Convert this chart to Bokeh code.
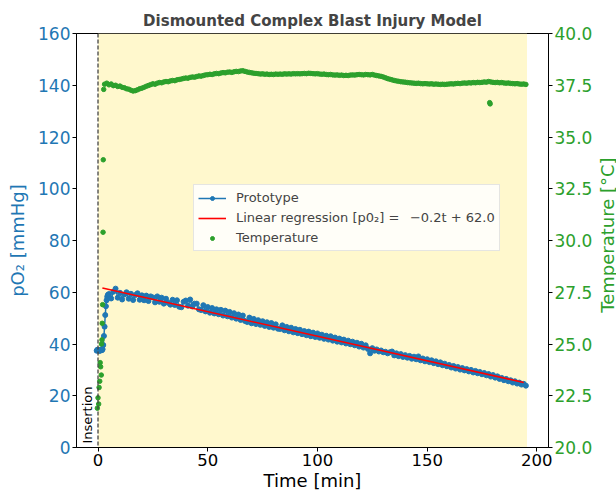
import numpy as np
from bokeh.plotting import figure
from bokeh.layouts import row
from bokeh.models import (Range1d, LinearAxis, Span, BoxAnnotation, Label, Legend,
                          LegendItem, FixedTicker, NumeralTickFormatter, ColumnDataSource)
from bokeh.embed import file_html
from bokeh.resources import INLINE

# ---------------- data ----------------
title_text = "Dismounted Complex Blast Injury Model"

proto_t_early = [-0.6, -0.3, 0.0, 0.3, 0.6, 0.9, 1.2, 1.5, 1.8, 2.1, 2.4, 2.7,
                 3.0, 3.3, 3.6, 3.9, 4.2, 4.5]
proto_p_early = [37.4, 37.8, 37.5, 37.6, 37.3, 37.7, 37.5, 37.9, 37.6, 38.0, 39.6, 43.1,
                 46.7, 51.2, 54.6, 56.9, 58.3, 59.0]
proto_t_main = [float(m) for m in range(5, 196)]
proto_p_main = [
    59.3, 57.6, 60.2, 61.4, 57.9, 59.8, 57.2, 59.1, 60.0, 57.5,
    59.4, 57.0, 58.9, 59.6, 57.1, 58.8, 56.9, 58.7, 56.6, 58.4,
    58.0, 56.1, 58.4, 56.3, 57.9, 55.6, 57.5, 55.9, 55.2, 57.1,
    55.1, 56.9, 54.4, 54.2, 56.3, 56.8, 54.8, 57.2, 54.5, 55.6,
    55.6, 53.4, 53.1, 55.0, 52.6, 54.3, 52.1, 53.9, 51.8, 53.4,
    51.5, 53.2, 51.0, 52.9, 50.7, 52.4, 50.2, 51.9, 49.8, 51.4,
    49.3, 51.0, 48.9, 48.5, 50.2, 48.0, 49.7, 47.7, 49.2, 47.4,
    48.8, 47.0, 48.4, 46.6, 48.1, 46.3, 47.6, 45.9, 45.8, 47.2,
    45.3, 46.6, 44.9, 46.3, 44.5, 45.8, 44.2, 45.5, 43.8, 45.0,
    43.4, 44.8, 43.0, 44.4, 42.7, 44.1, 42.4, 43.6, 42.0, 43.2,
    41.7, 43.0, 41.3, 42.5, 40.9, 42.1, 40.6, 41.7, 40.2, 41.3,
    39.9, 40.9, 39.5, 40.5, 39.0, 40.1, 38.6, 39.5, 38.1, 36.4,
    38.4, 37.4, 37.9, 37.1, 37.5, 36.8, 37.0, 36.4, 36.8, 37.1,
    35.6, 36.4, 35.3, 36.1, 35.0, 35.7, 34.7, 35.4, 34.3, 35.1,
    34.1, 35.2, 33.7, 34.4, 33.3, 34.1, 33.0, 33.7, 32.6, 33.3,
    32.2, 32.9, 31.8, 32.4, 31.4, 31.9, 30.9, 31.5, 30.5, 31.1,
    30.1, 30.7, 29.8, 30.3, 29.4, 30.0, 29.0, 29.6, 28.7, 29.2,
    28.3, 28.8, 27.9, 28.4, 27.4, 28.0, 27.0, 27.5, 26.5, 26.9,
    26.0, 26.5, 25.6, 26.0, 25.1, 25.6, 24.7, 25.1, 24.3, 24.6,
    23.9,
]

temp_t_early = [-0.3, 0.0, 0.3, 0.5, 0.8, 1.0, 1.2, 1.5, 1.6, 1.8, 1.9, 2.1, 2.3, 2.4, 2.6]
temp_v_early = [21.9, 22.4, 22.1, 22.9, 23.2, 24.1, 23.9, 23.5, 25.0, 25.2, 26.0, 26.9,
                30.4, 33.9, 37.3]
temp_t_main = [float(m) for m in range(3, 196)]
temp_v_main = [
    37.55, 37.60, 37.52, 37.56, 37.48, 37.50, 37.44, 37.46, 37.40, 37.38,
    37.33, 37.31, 37.26, 37.22, 37.24, 37.28, 37.33, 37.36, 37.40, 37.45,
    37.49, 37.53, 37.57, 37.55, 37.60, 37.63, 37.62, 37.66, 37.68, 37.67,
    37.71, 37.73, 37.72, 37.76, 37.78, 37.80, 37.83, 37.85, 37.84, 37.88,
    37.90, 37.89, 37.92, 37.95, 37.94, 37.97, 38.00, 38.01, 38.03, 38.02,
    38.05, 38.07, 38.06, 38.09, 38.11, 38.10, 38.13, 38.14, 38.12, 38.15,
    38.17, 38.16, 38.19, 38.20, 38.17, 38.14, 38.12, 38.10, 38.08, 38.07,
    38.06, 38.04, 38.05, 38.03, 38.04, 38.02, 38.03, 38.02, 38.04, 38.03,
    38.04, 38.03, 38.05, 38.04, 38.05, 38.04, 38.06, 38.05, 38.06, 38.05,
    38.06, 38.07, 38.06, 38.08, 38.07, 38.06, 38.05, 38.06, 38.04, 38.03,
    38.04, 38.02, 38.01, 38.02, 38.00, 37.99, 38.00, 37.98, 37.99, 37.97,
    37.98, 37.97, 37.99, 38.00, 37.99, 38.01, 38.02, 38.01, 38.00, 38.02,
    38.01, 38.00, 38.02, 37.99, 37.97, 37.95, 37.93, 37.90, 37.86, 37.82,
    37.79, 37.76, 37.73, 37.71, 37.69, 37.67, 37.66, 37.65, 37.63, 37.62,
    37.61, 37.60, 37.59, 37.60, 37.58, 37.57, 37.58, 37.57, 37.56, 37.57,
    37.55, 37.56, 37.55, 37.54, 37.55, 37.54, 37.55, 37.56, 37.57, 37.56,
    37.58, 37.59, 37.58, 37.60, 37.61, 37.60, 37.62, 37.61, 37.63, 37.62,
    37.64, 37.63, 37.64, 37.66, 37.65, 37.68, 37.66, 37.64, 37.63, 37.64,
    37.62, 37.63, 37.61, 37.60, 37.61, 37.59, 37.58, 37.57, 37.58, 37.56,
    37.55, 37.56, 37.54,
]
temp_t_out = [178.5, 178.7]
temp_v_out = [36.66, 36.60]

reg_slope = -0.19
reg_intercept = 62.0
reg_t_span = [2.0, 194.0]
insertion_t = 0.0
shade_span = [0.0, 195.5]

x_ticks = [0, 50, 100, 150, 200]
p_ticks = [0, 20, 40, 60, 80, 100, 120, 140, 160]
temp_ticks = [20.0, 22.5, 25.0, 27.5, 30.0, 32.5, 35.0, 37.5, 40.0]

legend_labels = ["Prototype",
                 "Linear regression [p0\u2082] = \u2002\u22120.2t + 62.0",
                 "Temperature"]

# ---------------- styling ----------------
BLUE = "#1f77b4"
GREEN = "#2ca02c"
FONT = "DejaVu Sans"
TOTAL_W, TOTAL_H = 616, 493
SIDE_W = 21

proto_src = ColumnDataSource(dict(t=proto_t_early + proto_t_main, p=proto_p_early + proto_p_main))
temp_src = ColumnDataSource(dict(t=temp_t_early + temp_t_main + temp_t_out,
                                 v=temp_v_early + temp_v_main + temp_v_out))
reg_t = np.array(reg_t_span)
reg_src = ColumnDataSource(dict(t=reg_t, p=reg_slope * reg_t + reg_intercept))

p = figure(width=TOTAL_W - SIDE_W, height=TOTAL_H, output_backend="svg", toolbar_location=None,
           x_range=Range1d(-9.8, 205.3), y_range=Range1d(0, 160),
           min_border_left=76, min_border_right=TOTAL_W - SIDE_W - 549,
           min_border_top=33, min_border_bottom=45)
p.extra_y_ranges = {"temp": Range1d(20, 40)}

p.title.text = title_text
p.title.text_font = FONT
p.title.text_font_size = "15px"
p.title.text_font_style = "bold"
p.title.align = "center"
p.title.standoff = 7

p.xgrid.visible = False
p.ygrid.visible = False
p.outline_line_color = "black"
p.outline_line_width = 1
p.background_fill_color = "white"
p.border_fill_color = "white"

p.add_layout(BoxAnnotation(left=shade_span[0], right=shade_span[1], fill_color="#FFF8CD",
                           fill_alpha=1.0, line_alpha=0, level="underlay"))

proto_line = p.line("t", "p", source=proto_src, line_color=BLUE, line_width=1.5)
proto_pts = p.scatter("t", "p", source=proto_src, marker="circle", size=5,
                      fill_color=BLUE, line_color=BLUE)
reg_line = p.line("t", "p", source=reg_src, line_color="red", line_width=1.6)
temp_pts = p.scatter("t", "v", source=temp_src, y_range_name="temp", marker="circle",
                     size=4.5, fill_color=GREEN, line_color=GREEN)

p.add_layout(Span(location=insertion_t, dimension="height", line_color="#444444",
                  line_dash="4 2", line_width=1.3))
p.add_layout(Label(x=-4.6, y=1.5, text="Insertion", angle=np.pi / 2, text_align="left",
                   text_baseline="middle", text_font=FONT, text_font_size="13px",
                   text_color="black"))

def style_axis(ax, color, tick_size, label_standoff):
    ax.axis_label_text_font = FONT
    ax.axis_label_text_font_size = "18px"
    ax.axis_label_text_font_style = "normal"
    ax.axis_label_text_color = color
    ax.axis_label_standoff = label_standoff
    ax.major_label_text_font = FONT
    ax.major_label_text_font_size = tick_size
    ax.major_label_text_color = color
    ax.major_label_standoff = 2
    ax.major_tick_in = 0
    ax.major_tick_out = 4
    ax.minor_tick_line_color = None
    ax.axis_line_color = "black"
    ax.major_tick_line_color = "black"

xa = p.xaxis[0]
xa.ticker = FixedTicker(ticks=x_ticks)
xa.axis_label = "Time [min]"
style_axis(xa, "black", "16.5px", 1)

ya = p.yaxis[0]
ya.ticker = FixedTicker(ticks=p_ticks)
ya.axis_label = "pO\u2082 [mmHg]"
style_axis(ya, BLUE, "17px", 7)

ra = LinearAxis(y_range_name="temp", ticker=FixedTicker(ticks=temp_ticks),
                formatter=NumeralTickFormatter(format="0.0"))
style_axis(ra, GREEN, "17px", 0)
p.add_layout(ra, "right")

legend = Legend(items=[
    LegendItem(label=legend_labels[0], renderers=[proto_line, proto_pts]),
    LegendItem(label=legend_labels[1], renderers=[reg_line]),
    LegendItem(label=legend_labels[2], renderers=[temp_pts]),
], location=(117, 196))
legend.label_text_font = FONT
legend.label_text_font_size = "13px"
legend.glyph_width = 28
legend.glyph_height = 10
legend.label_height = 17
legend.label_standoff = 10
legend.spacing = 3
legend.padding = 4
legend.margin = 0
legend.border_line_color = "#cccccc"
legend.border_line_width = 1
legend.background_fill_color = "white"
legend.background_fill_alpha = 0.85
p.add_layout(legend, "center")

# narrow strip on the right that carries the right-axis title (reads bottom-to-top)
q = figure(width=SIDE_W, height=TOTAL_H, output_backend="svg", toolbar_location=None,
           x_range=Range1d(0, SIDE_W), y_range=Range1d(0, TOTAL_H),
           min_border=0, min_border_left=0, min_border_right=0,
           min_border_top=0, min_border_bottom=0)
q.axis.visible = False
q.grid.visible = False
q.outline_line_color = None
q.background_fill_color = "white"
q.border_fill_color = "white"
q.add_layout(Label(x=11.5, y=TOTAL_H - 240, text="Temperature [\u00b0C]", angle=np.pi / 2,
                   text_align="center", text_baseline="middle", text_font=FONT,
                   text_font_size="18px", text_color=GREEN))

layout = row(p, q, spacing=0)
open("out.html", "w").write(file_html(layout, INLINE))
